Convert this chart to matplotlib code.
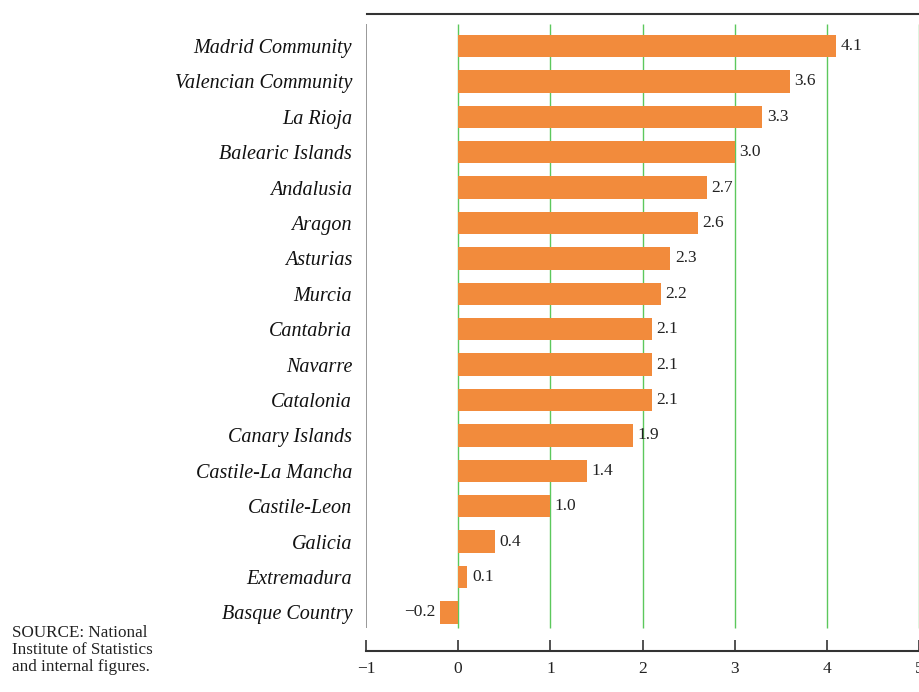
import matplotlib
matplotlib.use("Agg")
import matplotlib.pyplot as plt
from matplotlib.lines import Line2D

regions = ["Madrid Community", "Valencian Community", "La Rioja", "Balearic Islands",
           "Andalusia", "Aragon", "Asturias", "Murcia", "Cantabria", "Navarre",
           "Catalonia", "Canary Islands", "Castile-La Mancha", "Castile-Leon",
           "Galicia", "Extremadura", "Basque Country"]
values = [4.1, 3.6, 3.3, 3.0, 2.7, 2.6, 2.3, 2.2, 2.1, 2.1, 2.1, 1.9, 1.4, 1.0, 0.4, 0.1, -0.2]
xticks = [-1, 0, 1, 2, 3, 4, 5]

W, H = 920, 692
fig = plt.figure(figsize=(W / 100, H / 100), dpi=100)
plt.rcParams['font.family'] = ['Liberation Serif', 'DejaVu Serif']

left_px, right_px = 366, 919
top_px, bot_px = 24, 651
ax = fig.add_axes([left_px / W, 1 - bot_px / H, (right_px - left_px) / W, (bot_px - top_px) / H])

n = len(regions)
pos = list(range(n))
orange = '#F28B3C'
green = '#5CC85C'

ax.set_xlim(-1, 5)
sp = 35.4
y_top = -(46 - top_px) / sp
y_bot = (bot_px - 46) / sp
ax.set_ylim(y_bot, y_top)
grid_end = (628 - 46) / sp

for t in xticks[1:]:
    ax.vlines(t, y_top, grid_end, color=green, lw=1.0, zorder=1)
ax.vlines(-1, y_top, grid_end, color='#888888', lw=1.2, zorder=1)

ax.barh(pos, values, height=0.63, color=orange, zorder=2)

for p, v in zip(pos, values):
    lbl = f"{v:.1f}".replace('-', '\u2212')
    if v >= 0:
        ax.text(v + 0.05, p, lbl, va='center', ha='left', fontsize=12.5, color='#222222')
    else:
        ax.text(v - 0.05, p, lbl, va='center', ha='right', fontsize=12.5, color='#222222')

ax.set_yticks(pos)
ax.set_yticklabels(regions, fontsize=14.5, style='italic', color='#111111')
ax.tick_params(axis='y', length=0, pad=10)

ax.set_xticks(xticks)
ax.set_xticklabels([str(t).replace('-', '\u2212') for t in xticks], fontsize=12.5, color='#222222')
ax.tick_params(axis='x', direction='in', length=8, width=1.2, color='#333333', pad=7)

for s in ['top', 'right', 'left']:
    ax.spines[s].set_visible(False)
ax.spines['bottom'].set_color('#333333')
ax.spines['bottom'].set_linewidth(1.5)

fig.add_artist(Line2D([367 / W, 1.0], [1 - 14 / H, 1 - 14 / H], color='#333333', lw=1.5))

fig.text(12 / W, 1 - 625 / H, "SOURCE: National\nInstitute of Statistics\nand internal figures.",
         fontsize=12.3, va='top', ha='left', color='#222222', linespacing=1.1)

fig.savefig("out.png", dpi=100)
